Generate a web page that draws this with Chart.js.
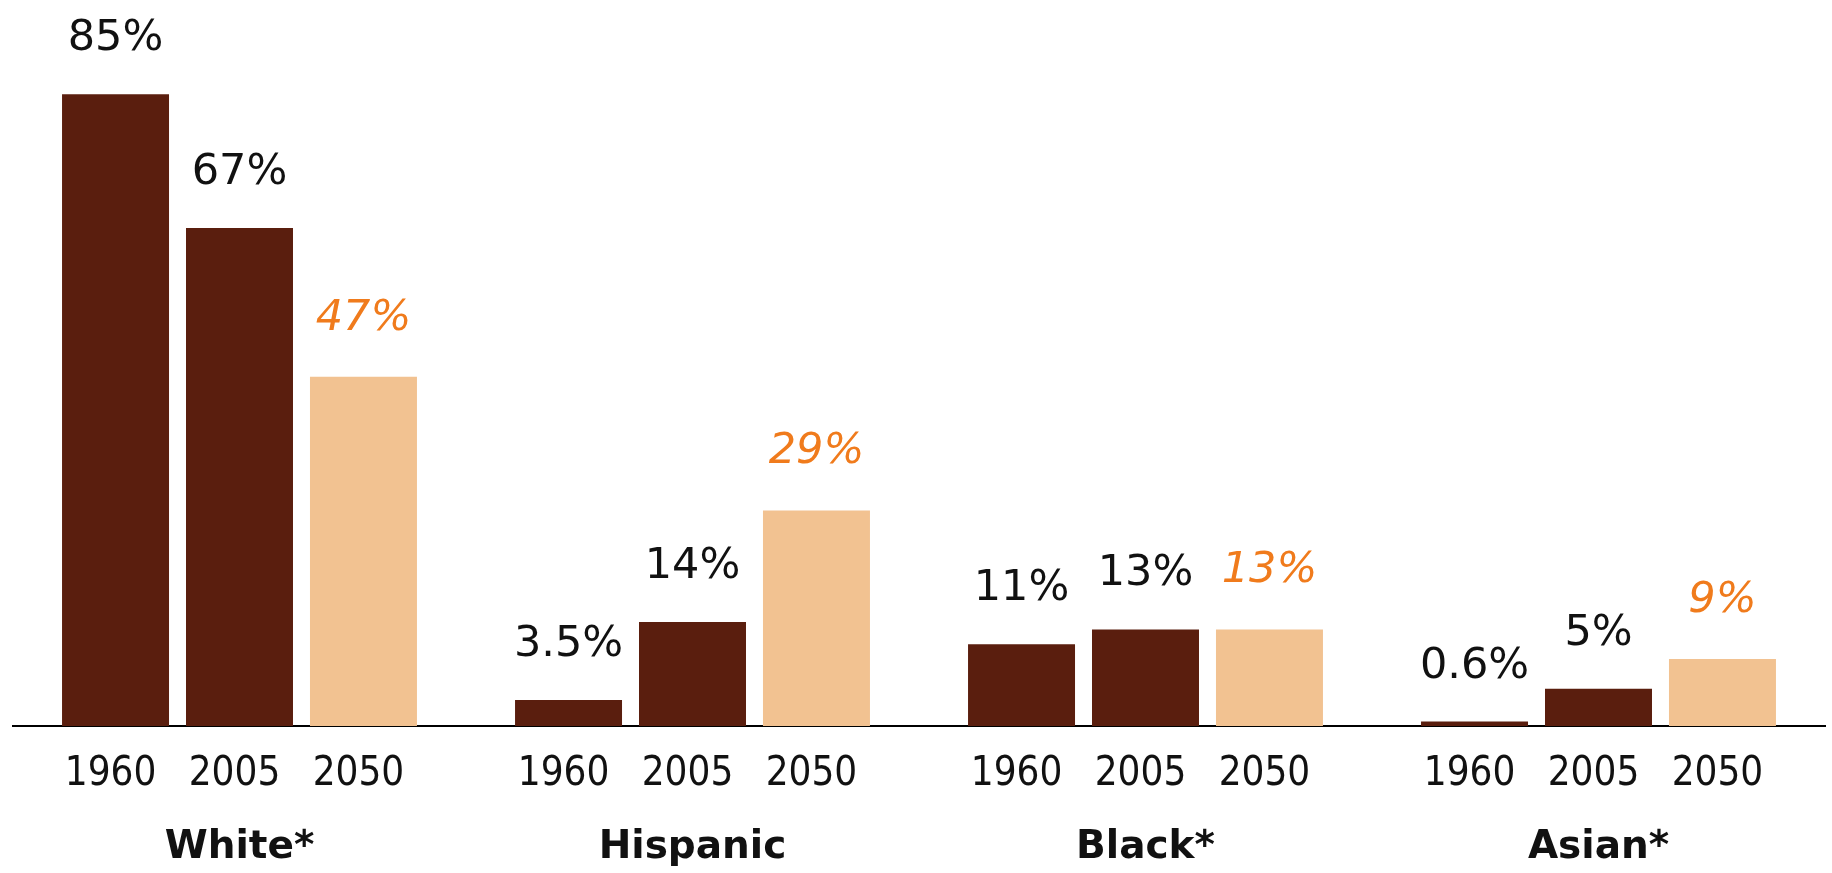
<!DOCTYPE html>
<html>
<head>
<meta charset="utf-8">
<script src="https://cdn.jsdelivr.net/npm/chart.js@4.4.1/dist/chart.umd.min.js"></script>
<style>
  html, body { margin: 0; padding: 0; background: #ffffff; }
  #wrap { width: 1832px; height: 873px; position: relative; }
</style>
</head>
<body>
<div id="wrap"><canvas id="c" width="1832" height="873"></canvas></div>
<script>
// ---- data ----
const groups = ['White*', 'Hispanic', 'Black*', 'Asian*'];
const years = ['1960', '2005', '2050'];
const values1960 = [85, 3.5, 11, 0.6];
const values2005 = [67, 14, 13, 5];
const values2050 = [47, 29, 13, 9];
const labels1960 = ['85%', '3.5%', '11%', '0.6%'];
const labels2005 = ['67%', '14%', '13%', '5%'];
const labels2050 = ['47%', '29%', '13%', '9%'];

const DARK = '#5a1e0e';
const LIGHT = '#f2c291';
const ORANGE = '#f07b1c';

const seriesValues = [values1960, values2005, values2050];
const seriesLabels = [labels1960, labels2005, labels2050];
const seriesColors = [DARK, DARK, LIGHT];

const labelPlugin = {
  id: 'labels',
  afterDatasetsDraw(chart) {
    const ctx = chart.ctx;
    const xScale = chart.scales.x;
    ctx.save();
    ctx.textAlign = 'center';
    ctx.textBaseline = 'alphabetic';
    chart.data.datasets.forEach((ds, di) => {
      const meta = chart.getDatasetMeta(di);
      meta.data.forEach((bar, i) => {
        // value label
        if (di === 2) {
          ctx.fillStyle = ORANGE;
          ctx.font = 'oblique 43px "DejaVu Sans"';
          ctx.fillText(seriesLabels[di][i], bar.x, bar.y - 47);
        } else {
          ctx.fillStyle = '#111111';
          ctx.font = '43px "DejaVu Sans"';
          ctx.fillText(seriesLabels[di][i], bar.x, bar.y - 44);
        }
        // year label
        ctx.fillStyle = '#111111';
        ctx.font = '40px "DejaVu Sans Condensed", "Open Sans"';
        ctx.fillText(years[di], bar.x - 5, 785);
      });
    });
    // group labels
    ctx.fillStyle = '#111111';
    ctx.font = 'bold 39px "DejaVu Sans"';
    groups.forEach((g, i) => {
      ctx.fillText(g, xScale.getPixelForValue(i), 858);
    });
    ctx.restore();
  }
};

new Chart(document.getElementById('c'), {
  type: 'bar',
  data: {
    labels: groups,
    datasets: years.map((y, di) => ({
      label: y,
      data: seriesValues[di],
      backgroundColor: seriesColors[di],
      borderWidth: 0,
      categoryPercentage: 0.821,
      barPercentage: 0.863
    }))
  },
  options: {
    responsive: false,
    animation: false,
    layout: { padding: { top: 20, bottom: 147, left: 13, right: 7 } },
    plugins: {
      legend: { display: false },
      tooltip: { enabled: false }
    },
    scales: {
      x: {
        grid: { display: false, drawTicks: false },
        ticks: { display: false },
        border: { display: true, color: '#000000', width: 2 }
      },
      y: {
        display: false,
        min: 0,
        max: 95
      }
    }
  },
  plugins: [labelPlugin]
});
</script>
</body>
</html>
